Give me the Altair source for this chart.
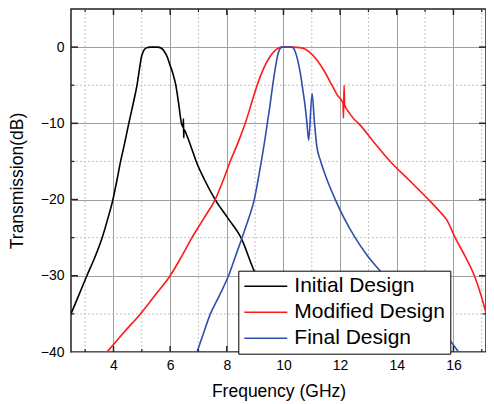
import altair as alt
import pandas as pd

# ---------------- data ----------------
series_names = ["Initial Design", "Modified Design", "Final Design"]
series_colors = ["#000000", "#ff1a1a", "#2f4fad"]

init_f = [2.5, 2.78, 3.06, 3.35, 3.6, 3.8, 3.98, 4.12, 4.25, 4.4, 4.54, 4.69, 4.83, 4.92, 4.98, 5.06, 5.16, 5.3, 5.55, 5.69, 5.8, 5.9,
          5.98, 6.1, 6.2, 6.3, 6.4, 6.46, 6.47, 6.48, 6.49, 6.6, 6.75, 6.92, 7.2, 7.59, 8.05, 8.5, 8.97, 9.4, 10.0, 10.7, 11.0]
init_db = [-35, -32.5, -30, -27.5, -25, -22.5, -20, -17.5, -15, -12.5, -10, -7.5, -5, -2.8, -1.4, -0.5, -0.1, 0, 0, -0.15, -0.6, -1.3,
           -2.2, -3.5, -5, -7.4, -10, -10.5, -9.4, -11.9, -10.8, -11.7, -13.2, -15, -17.3, -20, -22.5, -25, -29.4, -32.5, -36, -40, -41.5]

mod_f = [3.77, 4.35, 4.95, 5.5, 6.0, 6.4, 6.77, 7.2, 7.59, 7.87, 8.12, 8.4, 8.65, 8.87, 9.07, 9.3, 9.55, 9.75, 9.95, 10.3, 10.65,
         10.9, 11.18, 11.45, 11.71, 11.9, 12.1, 12.12, 12.14, 12.16, 12.3, 12.48, 12.65, 13.2, 13.77, 14.45, 15.12, 15.5, 15.77,
         16.06, 16.42, 16.74, 16.97, 17.16, 17.32, 17.44, 17.55]
mod_db = [-40, -37.5, -35, -32.4, -30, -27.5, -25, -22.4, -20, -17.5, -15, -12.5, -10, -7.4, -5, -2.8, -1.1, -0.3, 0, 0, -0.1,
          -0.6, -1.7, -3.2, -5, -6.3, -7.3, -9.3, -5.0, -7.6, -8.5, -9.4, -10, -12.5, -15, -17.5, -20, -21.5, -22.7,
          -25, -27.5, -30, -32.5, -35, -37, -38.4, -40]

fin_f = [6.95, 7.18, 7.42, 7.75, 8.06, 8.3, 8.54, 8.77, 8.97, 9.1, 9.22, 9.33, 9.43, 9.53, 9.62, 9.72, 9.8, 9.88, 9.95, 10.3,
         10.42, 10.52, 10.6, 10.68, 10.77, 10.83, 10.89, 11.01, 11.1, 11.18, 11.3, 11.42, 11.6, 11.83, 12.15, 12.53, 12.95,
         13.42, 14.0, 14.6, 15.2, 15.77, 16.18]
fin_db = [-40, -37.5, -35, -32.5, -30, -27.5, -25, -22.5, -20, -17.5, -15, -12.5, -10, -7.5, -5, -2.6, -1.0, -0.2, 0, 0,
          -0.65, -2.0, -3.5, -5.5, -7.9, -10, -12.2, -6.1, -10.2, -13.1, -14.8, -16.2, -18, -20, -22.5, -25, -27.3,
          -29.4, -31.8, -34.0, -36.2, -38, -40]

major_x = [4, 6, 8, 10, 12, 14, 16]
minor_x = [3, 5, 7, 9, 11, 13, 15, 17]
major_y = [-40, -30, -20, -10, 0]
minor_y = [-35, -25, -15, -5]
inner_major_y = [-30, -20, -10, 0]
x_range = [2.5, 17.15]
y_range = [-40, 5]

rows = []
for name, fs, ds in [(series_names[0], init_f, init_db),
                     (series_names[1], mod_f, mod_db),
                     (series_names[2], fin_f, fin_db)]:
    for f, d in zip(fs, ds):
        rows.append({"series": name, "f": f, "db": d})
df = pd.DataFrame(rows)

W, H = 415, 343
FONT = "Liberation Sans"
xs = alt.Scale(domain=x_range, nice=False, zero=False)
ys = alt.Scale(domain=y_range, nice=False, zero=False)
ax_x = alt.Axis(values=major_x, title="Frequency (GHz)", grid=True, labelPadding=6, titlePadding=10)
ax_y = alt.Axis(values=major_y, title="Transmission(dB)", grid=True, labelPadding=7, titlePadding=14)


def X(field):
    return alt.X(field, type="quantitative", scale=xs, axis=ax_x)


def Y(field):
    return alt.Y(field, type="quantitative", scale=ys, axis=ax_y)


mx = pd.DataFrame({"v": minor_x})
Mx = pd.DataFrame({"v": major_x})
my = pd.DataFrame({"v": minor_y})
My = pd.DataFrame({"v": inner_major_y})

grid_minor_x = alt.Chart(mx).mark_rule(strokeDash=[2, 2], color="#c4c4c4", strokeWidth=1, clip=True).encode(x=X("v"))
grid_minor_y = alt.Chart(my).mark_rule(strokeDash=[2, 2], color="#c4c4c4", strokeWidth=1).encode(y=Y("v"))

lines = alt.Chart(df).mark_line(strokeWidth=1.6, clip=True, interpolate="monotone").encode(
    x=X("f"),
    y=Y("db"),
    color=alt.Color("series:N", scale=alt.Scale(domain=series_names, range=series_colors),
                    legend=alt.Legend(title=None, orient="none", legendX=167.3, legendY=261.7,
                                      symbolType="stroke", symbolSize=1849, symbolStrokeWidth=1.6,
                                      clipHeight=21,
                                      labelFontSize=21, labelFont=FONT, labelColor="black",
                                      padding=5, rowPadding=4, labelOffset=6, labelLimit=400,
                                      strokeColor="black", fillColor="white", cornerRadius=0)),
)

tick_color = "#222222"
ticks_bottom_major = alt.Chart(Mx).mark_rule(color=tick_color, strokeWidth=1.5).encode(
    x=X("v"), y=alt.value(H), y2=alt.value(H - 6))
ticks_bottom_minor = alt.Chart(mx).mark_rule(color=tick_color, strokeWidth=1.2, clip=True).encode(
    x=X("v"), y=alt.value(H), y2=alt.value(H - 3))
ticks_top_major = alt.Chart(Mx).mark_rule(color=tick_color, strokeWidth=1.5).encode(
    x=X("v"), y=alt.value(0), y2=alt.value(6))
ticks_top_minor = alt.Chart(mx).mark_rule(color=tick_color, strokeWidth=1.2, clip=True).encode(
    x=X("v"), y=alt.value(0), y2=alt.value(3))
ticks_left_major = alt.Chart(My).mark_rule(color=tick_color, strokeWidth=1.5).encode(
    y=Y("v"), x=alt.value(0), x2=alt.value(7))
ticks_left_minor = alt.Chart(my).mark_rule(color=tick_color, strokeWidth=1.2).encode(
    y=Y("v"), x=alt.value(0), x2=alt.value(3.5))
ticks_right_major = alt.Chart(My).mark_rule(color=tick_color, strokeWidth=1.5).encode(
    y=Y("v"), x=alt.value(W), x2=alt.value(W - 7))
ticks_right_minor = alt.Chart(my).mark_rule(color=tick_color, strokeWidth=1.2).encode(
    y=Y("v"), x=alt.value(W), x2=alt.value(W - 3.5))

chart = alt.layer(
    grid_minor_x, grid_minor_y, lines,
    ticks_bottom_major, ticks_bottom_minor, ticks_top_major, ticks_top_minor,
    ticks_left_major, ticks_left_minor, ticks_right_major, ticks_right_minor,
).properties(
    width=W, height=H,
    background="white",
    autosize=alt.AutoSizeParams(type="none"),
    padding={"left": 63, "top": 1, "right": 0, "bottom": 52},
).configure_view(
    stroke="#222222", strokeWidth=1.5
).configure_axis(
    domain=False, ticks=False,
    labelFont=FONT, labelFontSize=14, labelColor="black",
    titleFont=FONT, titleFontSize=17.5, titleFontWeight="normal", titleColor="black",
    gridColor="#a0a0a0", gridWidth=1,
)

chart.save("out.html", embed_options={"renderer": "svg", "actions": False})
